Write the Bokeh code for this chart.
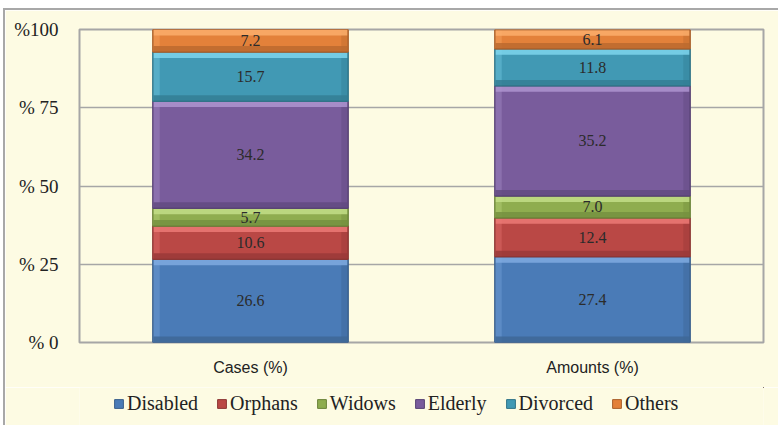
from bokeh.plotting import figure
from bokeh.layouts import column
from bokeh.models import (ColumnDataSource, FactorRange, Range1d, FixedTicker,
                          Legend, LegendItem)
from bokeh.core.properties import value
from bokeh.transform import dodge
from bokeh.embed import file_html
from bokeh.resources import INLINE

categories = ["Cases (%)", "Amounts (%)"]
series = ["Disabled", "Orphans", "Widows", "Elderly", "Divorced", "Others"]
disabled = [26.6, 27.4]
orphans = [10.6, 12.4]
widows = [5.7, 7.0]
elderly = [34.2, 35.2]
divorced = [15.7, 11.8]
others = [7.2, 6.1]
y_ticks = [0, 25, 50, 75, 100]
y_tick_labels = ["% 0", "% 25", "% 50", "% 75", "%100"]

body_colors = ["#4A7BB7", "#BA4845", "#8FAD4F", "#795C9C", "#4199B4", "#E3813A"]
light_colors = ["#7FAAE0", "#EC7A76", "#C3DE87", "#AE94D0", "#7ED5EC", "#FBAE6C"]
dark_colors = ["#3E6797", "#9A3A38", "#76903F", "#624A81", "#347E94", "#BC6A2F"]
edge_colors = ["#3A5F8C", "#8C3533", "#6B8339", "#574274", "#2F7387", "#A95F2A"]

values = [disabled, orphans, widows, elderly, divorced, others]

BG = "#FDFBE3"
p = figure(x_range=FactorRange(*categories, range_padding=0),
           y_range=Range1d(0, 100),
           width=773, height=377, output_backend="svg", toolbar_location=None,
           background_fill_color=BG, border_fill_color=BG,
           min_border_left=74, min_border_right=15, min_border_top=19,
           min_border_bottom=45)

bar_w = 0.571
bev = 1.9
side = 0.02
bottom = [0.0, 0.0]
for name, vals, bc, lc, dc, ec in zip(series, values, body_colors, light_colors,
                                       dark_colors, edge_colors):
    tops = [b + v for b, v in zip(bottom, vals)]
    src = ColumnDataSource(dict(
        x=categories, bottom=bottom, top=tops,
        lt_b=[t - bev for t in tops],
        dk_t=[b + bev for b in bottom],
        mid=[(b + t) / 2 for b, t in zip(bottom, tops)],
        label=["%.1f" % v for v in vals]))
    p.vbar(x="x", bottom="bottom", top="top", width=bar_w, source=src,
           fill_color=bc, line_color=ec, line_width=1)
    # side bevels
    p.vbar(x=dodge("x", -bar_w / 2 + side / 2, range=p.x_range), bottom="bottom",
           top="top", width=side, source=src, fill_color=lc, fill_alpha=0.35,
           line_color=None)
    p.vbar(x=dodge("x", bar_w / 2 - side / 2, range=p.x_range), bottom="bottom",
           top="top", width=side, source=src, fill_color=dc, fill_alpha=0.45,
           line_color=None)
    # top / bottom bevels
    p.vbar(x="x", bottom="lt_b", top="top", width=bar_w - 0.004, source=src,
           fill_color=lc, fill_alpha=0.85, line_color=None)
    p.vbar(x="x", bottom="bottom", top="dk_t", width=bar_w - 0.004, source=src,
           fill_color=dc, fill_alpha=0.85, line_color=None)
    p.vbar(x="x", bottom="bottom", top="top", width=bar_w, source=src,
           fill_color=None, line_color=ec, line_width=1)
    p.text(x="x", y="mid", text="label", source=src, text_align="center",
           text_baseline="middle", text_font=value("Liberation Serif"),
           text_font_size="16px", text_color="#2B2B2B")
    bottom = tops

p.xgrid.grid_line_color = None
p.ygrid.grid_line_color = "#A6A6A6"
p.ygrid.grid_line_width = 1.5
p.ygrid.ticker = FixedTicker(ticks=y_ticks)
p.outline_line_color = "#A6A6A6"
p.outline_line_width = 2

p.yaxis.ticker = FixedTicker(ticks=y_ticks)
p.yaxis.major_label_overrides = {t: l for t, l in zip(y_ticks, y_tick_labels)}
p.yaxis.axis_line_color = None
p.yaxis.major_tick_line_color = None
p.yaxis.minor_tick_line_color = None
p.yaxis.major_label_standoff = 15
p.yaxis.major_label_text_font = "Liberation Serif"
p.yaxis.major_label_text_font_size = "19px"
p.yaxis.major_label_text_color = "#222222"

p.xaxis.axis_line_color = None
p.xaxis.major_tick_line_color = None
p.xaxis.major_label_standoff = 10
p.xaxis.major_label_text_font = "Liberation Sans"
p.xaxis.major_label_text_font_size = "16px"
p.xaxis.major_label_text_color = "#222222"

# legend strip underneath the chart
lf = figure(x_range=Range1d(0, 1), y_range=Range1d(0, 1), width=773, height=38,
            output_backend="svg", toolbar_location=None,
            x_axis_location=None, y_axis_location=None,
            background_fill_color=BG, border_fill_color=BG,
            min_border=0, outline_line_color=None)
lf.xgrid.grid_line_color = None
lf.ygrid.grid_line_color = None
items = []
for name, bc, ec in zip(series, body_colors, edge_colors):
    r = lf.vbar(x=[5], top=[5], bottom=[4], width=0.1, fill_color=bc, line_color=ec)
    items.append(LegendItem(label=name, renderers=[r]))
legend = Legend(items=items, orientation="horizontal", location=(34, 10),
                glyph_width=11, glyph_height=11, label_standoff=3, spacing=18,
                padding=0, margin=0, border_line_color=None,
                background_fill_alpha=0,
                label_text_font="Liberation Serif", label_text_font_size="20px",
                label_text_color="#222222")
lf.add_layout(legend, "center")

layout = column(p, lf, spacing=0)
layout.styles = {"border-left": "2px solid #A8A8A8", "border-top": "2px solid #A8A8A8",
                 "margin-left": "3px", "margin-top": "8px"}

open("out.html", "w").write(file_html(layout, INLINE))
